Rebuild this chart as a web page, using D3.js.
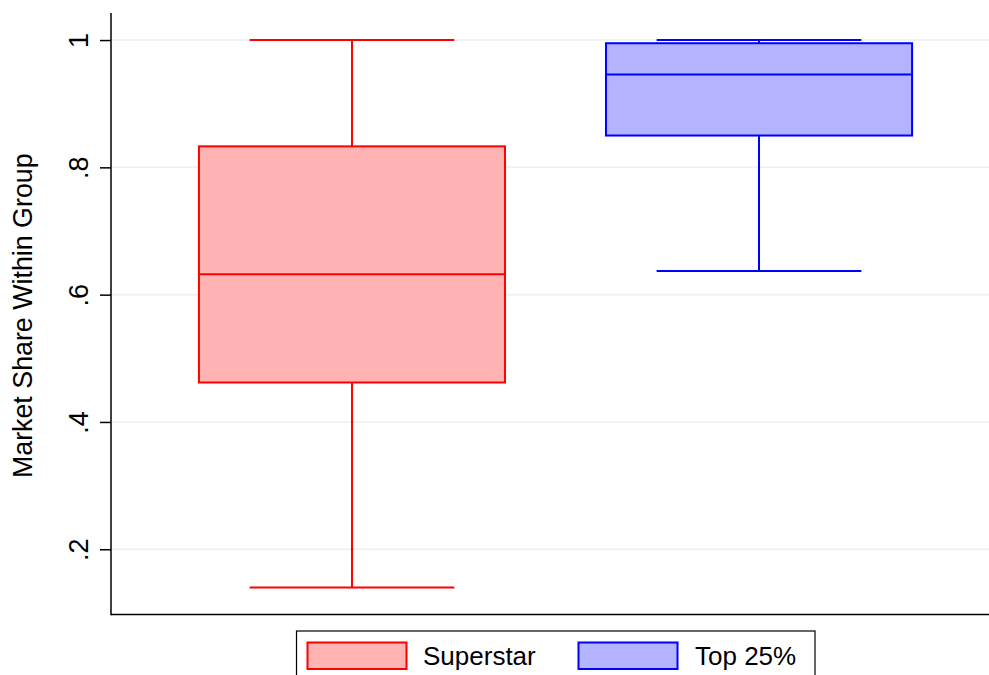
<!DOCTYPE html>
<html><head><meta charset="utf-8">
<script src="https://cdn.jsdelivr.net/npm/d3@7"></script>
<style>html,body{margin:0;padding:0;background:#fff;overflow:hidden}</style>
</head><body><svg id="c" width="989" height="675"></svg>
<script>
const categories = ["Superstar", "Top 25%"];
const mins    = [0.140, 0.637];
const q1s     = [0.462, 0.850];
const medians = [0.632, 0.946];
const q3s     = [0.833, 0.995];
const maxs    = [1.000, 1.000];
const yTicks  = [0.2, 0.4, 0.6, 0.8, 1];
const yTickLabels = [".2", ".4", ".6", ".8", "1"];
const strokeColors = ["#ff0000", "#0000ff"];
const fillColors = ["#ffb3b3", "#b3b3ff"];

const font = "'Liberation Sans', Arial, sans-serif";
const svg = d3.select("#c");
const L = 111, R = 1000, T = 13, B = 614.5;
const y = d3.scaleLinear().domain([0.0975, 1.0425]).range([B, T]);
const x = d3.scalePoint().domain(categories).range([L, R]).padding(0.592);
const step = x.step();

// gridlines
svg.append("g").selectAll("line").data(yTicks).join("line")
  .attr("x1", L).attr("x2", R).attr("y1", d => y(d)).attr("y2", d => y(d))
  .attr("stroke", "#eaf2f3").attr("stroke-width", 1.5);

// boxes
const data = categories.map((c, i) => ({c, i, min: mins[i], q1: q1s[i], med: medians[i], q3: q3s[i], max: maxs[i]}));
const g = svg.append("g");
data.forEach(d => {
  const cx = x(d.c), bw = step * 0.752, cw = step * 0.503;
  const s = strokeColors[d.i];
  g.append("line").attr("x1", cx).attr("x2", cx).attr("y1", y(d.max)).attr("y2", y(d.q3)).attr("stroke", s).attr("stroke-width", 2);
  g.append("line").attr("x1", cx).attr("x2", cx).attr("y1", y(d.q1)).attr("y2", y(d.min)).attr("stroke", s).attr("stroke-width", 2);
  g.append("line").attr("x1", cx - cw/2).attr("x2", cx + cw/2).attr("y1", y(d.max)).attr("y2", y(d.max)).attr("stroke", s).attr("stroke-width", 2);
  g.append("line").attr("x1", cx - cw/2).attr("x2", cx + cw/2).attr("y1", y(d.min)).attr("y2", y(d.min)).attr("stroke", s).attr("stroke-width", 2);
  g.append("rect").attr("x", cx - bw/2).attr("y", y(d.q3)).attr("width", bw).attr("height", y(d.q1) - y(d.q3))
    .attr("fill", fillColors[d.i]).attr("stroke", s).attr("stroke-width", 2);
  g.append("line").attr("x1", cx - bw/2).attr("x2", cx + bw/2).attr("y1", y(d.med)).attr("y2", y(d.med)).attr("stroke", s).attr("stroke-width", 2);
});

// y axis
const yAxis = d3.axisLeft(y).tickValues(yTicks).tickFormat((d, i) => yTickLabels[i]).tickSize(11).tickPadding(0);
const ya = svg.append("g").attr("transform", `translate(${L},0)`).call(yAxis);
ya.select(".domain").remove();
ya.selectAll(".tick line").attr("stroke", "#000").attr("stroke-width", 1.5);
ya.selectAll(".tick text").attr("x", null).attr("dy", null)
  .attr("transform", "translate(-23,0) rotate(-90)")
  .attr("text-anchor", "middle").attr("font-family", font).attr("font-size", 27).attr("fill", "#000");
svg.append("line").attr("x1", L).attr("x2", L).attr("y1", T).attr("y2", B + 0.75).attr("stroke", "#000").attr("stroke-width", 1.5);
svg.append("line").attr("x1", L).attr("x2", 989).attr("y1", B).attr("y2", B).attr("stroke", "#000").attr("stroke-width", 1.5);

// y title
svg.append("text").attr("transform", `translate(32,${(T + B) / 2 + 2}) rotate(-90)`)
  .attr("text-anchor", "middle").attr("font-family", font).attr("font-size", 26.8).attr("fill", "#000")
  .text("Market Share Within Group");

// legend
const lg = svg.append("g");
lg.append("rect").attr("x", 296.5).attr("y", 631).attr("width", 518.5).attr("height", 60)
  .attr("fill", "#fff").attr("stroke", "#000").attr("stroke-width", 1.2);
const legX = [307.5, 578.5], legTX = [423, 695];
categories.forEach((c, i) => {
  lg.append("rect").attr("x", legX[i]).attr("y", 642.5).attr("width", 99).attr("height", 26.5)
    .attr("fill", fillColors[i]).attr("stroke", strokeColors[i]).attr("stroke-width", 2);
  lg.append("text").attr("x", legTX[i]).attr("y", 665).attr("font-family", font).attr("font-size", 26)
    .attr("fill", "#000").text(c);
});
</script></body></html>
